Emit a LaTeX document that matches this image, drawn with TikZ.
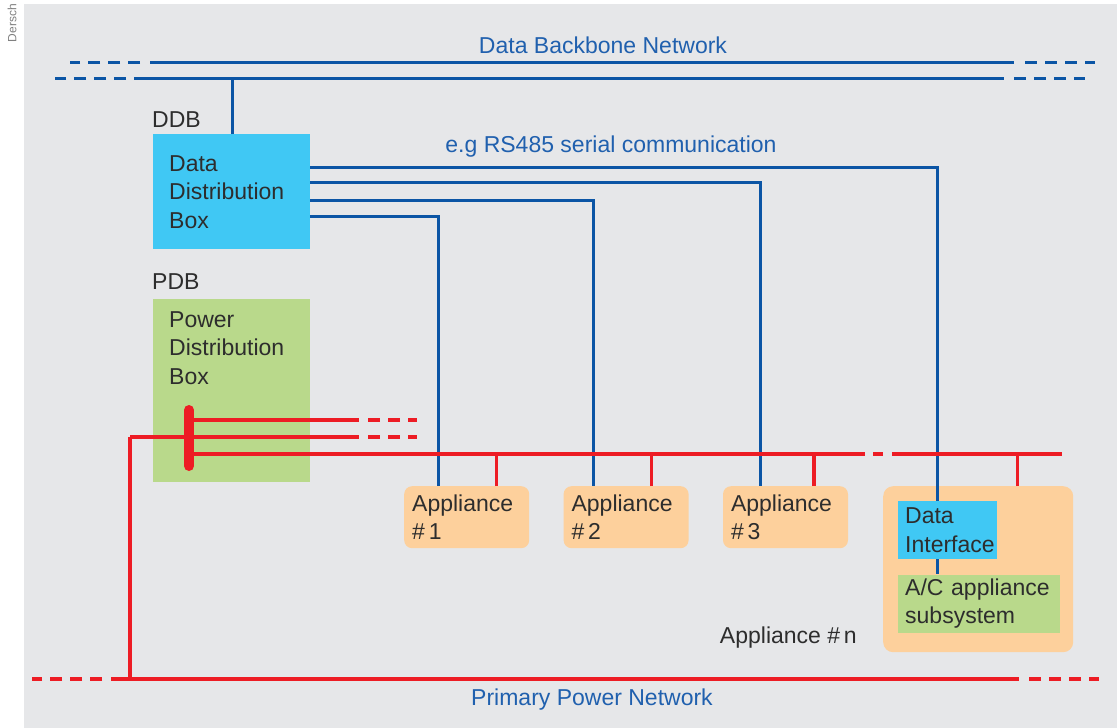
\documentclass[tikz,border=0pt]{standalone}
\usepackage{fontspec}
\setmainfont{Liberation Sans}
\usetikzlibrary{positioning, calc}
\definecolor{bggray}{RGB}{230, 231, 233}
\definecolor{ddbcyan}{RGB}{64, 200, 244}
\definecolor{pdbgreen}{RGB}{185, 217, 139}
\definecolor{appliorange}{RGB}{253, 208, 156}
\definecolor{datablue}{RGB}{11, 85, 165}
\definecolor{labelblue}{RGB}{32, 96, 174}
\definecolor{powerred}{RGB}{237, 28, 36}
\definecolor{textgray}{RGB}{45, 45, 45}
\newcommand{\diagfont}{\fontsize{23}{28.5}\selectfont}
\tikzstyle{caption} = [font=\diagfont, text=textgray, inner sep=0pt]
\tikzstyle{netlabel} = [font=\diagfont, text=labelblue, inner sep=0pt]
\tikzstyle{ddbbox} = [rectangle, fill=ddbcyan, minimum width=157pt, minimum height=115pt, text width=125pt, inner xsep=16pt, inner ysep=0pt, align=left, anchor=north west, text=textgray, font=\diagfont]
\tikzstyle{pdbbox} = [rectangle, fill=pdbgreen, minimum width=157pt, minimum height=183pt, inner sep=0pt, anchor=north west]
\tikzstyle{appbox} = [rectangle, rounded corners=8pt, fill=appliorange, minimum width=125pt, minimum height=62pt, text width=109pt, inner xsep=8pt, inner ysep=0pt, align=left, anchor=north west, text=textgray, font=\diagfont]
\tikzstyle{appnbox} = [rectangle, rounded corners=10pt, fill=appliorange, minimum width=190pt, minimum height=166pt, inner sep=0pt, anchor=north west]
\tikzstyle{dibox} = [rectangle, fill=ddbcyan, minimum width=99pt, minimum height=58pt, text width=85pt, inner xsep=7pt, inner ysep=0pt, align=left, anchor=north west, text=textgray, font=\diagfont]
\tikzstyle{acbox} = [rectangle, fill=pdbgreen, minimum width=162pt, minimum height=58pt, text width=148pt, inner xsep=7pt, inner ysep=0pt, align=left, text=textgray, font=\diagfont]
\tikzstyle{dataline} = [draw=datablue, line width=3pt]
\tikzstyle{powerline} = [draw=powerred, line width=3.4pt]
\tikzstyle{dashtail} = [dash pattern=on 12pt off 8pt]

\begin{document}
\begin{tikzpicture}[x=1pt, y=-1pt]
    \useasboundingbox (0,0) rectangle (1117,728);
    % Background
    \fill[bggray] (24,4) rectangle (1117,728);
    \node[rotate=90, font=\fontsize{12}{12}\selectfont, text=gray, inner sep=0pt] (credit) at (12,23) {Dersch};

    % Data backbone
    \coordinate (bbAl) at (150,62);
    \coordinate (bbAr) at (1014,62);
    \coordinate (bbBl) at (134,78);
    \coordinate (bbBr) at (1004,78);
    \draw[dataline] (bbAl) -- (bbAr);
    \draw[dataline] (bbBl) -- (bbBr);
    \draw[dataline, dashtail] ([xshift=-10pt]bbAl) -- ++(-70,0);
    \draw[dataline, dashtail] ([xshift=-8pt]bbBl) -- ++(-71,0);
    \draw[dataline, dashtail] ([xshift=11pt]bbAr) -- ++(70,0);
    \draw[dataline, dashtail] ([xshift=10pt]bbBr) -- ++(71,0);
    \node[netlabel] (bblabel) at (603,45) {Data Backbone Network};

    % Distribution boxes
    \node[caption, anchor=base west] (ddblabel) at (152,127) {DDB};
    \node[ddbbox] (ddb) at (153,134) {Data\\Distribution\\Box};
    \node[caption, anchor=base west] (pdblabel) at (152,289) {PDB};
    \node[pdbbox] (pdb) at (153,299) {};
    \node[caption, anchor=north west, align=left, inner xsep=16pt, inner ysep=12pt] (pdbtext) at (pdb.north west) {Power\\Distribution\\Box};

    % Appliances
    \node[appbox] (app1) at (404,486) {Appliance\\\#\,1};
    \node[appbox, right=34pt of app1] (app2) {Appliance\\\#\,2};
    \node[appbox, right=34pt of app2] (app3) {Appliance\\\#\,3};
    \node[appnbox] (appn) at (883,486) {};
    \node[dibox] (di) at (898,501) {Data\\Interface};
    \node[acbox, below=15pt of di.south west, anchor=north west] (ac) {A/C appliance\\subsystem};
    \node[caption, left=26pt of appn.south west, yshift=15pt] (appnlabel) {Appliance \#\,n};

    % Serial links
    \draw[dataline] ([xshift=79pt]ddb.north west) -- ([xshift=79pt]ddb.north west |- bbBl);
    \draw[dataline] ([yshift=-33pt]ddb.north east) -| ([xshift=-10.5pt]di.north);
    \draw[dataline] ([yshift=-48pt]ddb.north east) -| ([xshift=-25.5pt]app3.north);
    \draw[dataline] ([yshift=-66pt]ddb.north east) -| ([xshift=-32.5pt]app2.north);
    \draw[dataline] ([yshift=-82pt]ddb.north east) -| ([xshift=-28.5pt]app1.north);
    \draw[dataline] ([xshift=-10.5pt]di.south) -- ([xshift=-10.5pt]di.south |- ac.north);
    \node[netlabel] (rslabel) at (611,147) {e.g RS485 serial communication};

    % Power feeders
    \coordinate (bartop) at (189,410);
    \coordinate (barbot) at (189,466);
    \coordinate (feedA) at (189,420);
    \coordinate (feedB) at (130,437);
    \coordinate (feedC) at (189,454);
    \draw[powerline] (feedA) -- ++(170,0);
    \draw[powerline, dashtail] ([xshift=179pt]feedA) -- ++(49,0);
    \draw[powerline] (feedB) -- ++(229,0);
    \draw[powerline, dashtail] ([xshift=238pt]feedB) -- ++(49,0);
    \draw[powerline] (feedC) -- ++(676,0) coordinate (busgap);
    \draw[powerline] ([xshift=8pt]busgap) -- ++(10,0);
    \draw[powerline] ([xshift=27pt]busgap) -- ++(170,0) coordinate (busend);
    \draw[powerred, line width=10pt, line cap=round] (bartop) -- (barbot);
    \draw[powerline] ([xshift=29.5pt]app1.north) -- ([xshift=29.5pt]app1.north |- feedC);
    \draw[powerline] ([xshift=25.5pt]app2.north) -- ([xshift=25.5pt]app2.north |- feedC);
    \draw[powerline] ([xshift=28.5pt]app3.north) -- ([xshift=28.5pt]app3.north |- feedC);
    \draw[powerline] ([xshift=39pt]appn.north) -- ([xshift=39pt]appn.north |- feedC);

    % Primary power network
    \coordinate (ppl) at (111,679);
    \coordinate (ppr) at (1019,679);
    \draw[powerline] (ppl) -- (ppr);
    \draw[powerline, dashtail] ([xshift=-9pt]ppl) -- ++(-70,0);
    \draw[powerline, dashtail] ([xshift=10pt]ppr) -- ++(70,0);
    \draw[powerline] (feedB) -- (feedB |- ppl);
    \node[netlabel] (pplabel) at (592,700) {Primary Power Network};
\end{tikzpicture}
\end{document}
